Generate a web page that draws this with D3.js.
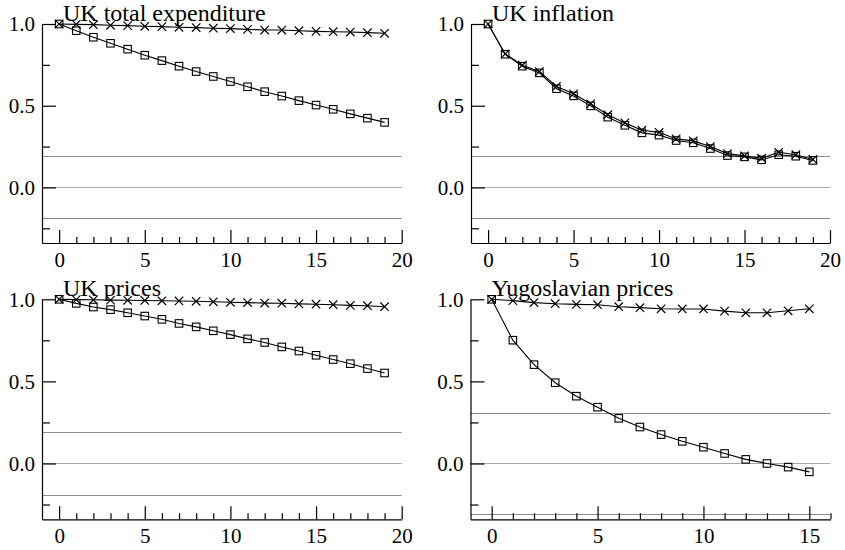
<!DOCTYPE html>
<html>
<head>
<meta charset="utf-8">
<script src="https://cdn.jsdelivr.net/npm/d3@7"></script>
<style>
  html, body { margin: 0; padding: 0; background: #fff; }
  svg { display: block; }
  svg text { font-family: "Liberation Serif", "Times New Roman", Times, "DejaVu Serif", serif !important; fill: #000; }
</style>
</head>
<body>
<svg id="chart" width="845" height="550"></svg>
<script>
// ---- data ----
const lagsUK = [0,1,2,3,4,5,6,7,8,9,10,11,12,13,14,15,16,17,18,19];
const lagsYugo = [0,1,2,3,4,5,6,7,8,9,10,11,12,13,14,15];

const titles = ["UK total expenditure", "UK inflation", "UK prices", "Yugoslavian prices"];

const expCross  = [1.0,0.998,0.996,0.992,0.990,0.986,0.984,0.980,0.978,0.974,0.972,0.967,0.963,0.963,0.959,0.955,0.953,0.951,0.947,0.943];
const expSquare = [1.0,0.959,0.919,0.882,0.846,0.809,0.776,0.742,0.709,0.679,0.648,0.616,0.586,0.559,0.531,0.504,0.478,0.450,0.424,0.398];

const inflCross  = [1.0,0.817,0.748,0.709,0.618,0.573,0.512,0.445,0.395,0.350,0.337,0.297,0.285,0.250,0.207,0.193,0.179,0.215,0.200,0.171];
const inflSquare = [1.0,0.815,0.742,0.701,0.604,0.560,0.499,0.430,0.380,0.334,0.320,0.287,0.273,0.238,0.195,0.187,0.169,0.200,0.191,0.165];

const pricesCross  = [1.0,0.998,0.997,0.995,0.994,0.993,0.991,0.990,0.988,0.985,0.982,0.980,0.977,0.976,0.972,0.970,0.967,0.963,0.961,0.955];
const pricesSquare = [1.0,0.975,0.953,0.937,0.918,0.898,0.878,0.853,0.832,0.808,0.785,0.759,0.737,0.710,0.685,0.659,0.633,0.608,0.578,0.551];

const yugoCross  = [1.0,0.992,0.980,0.973,0.969,0.967,0.955,0.949,0.942,0.941,0.941,0.928,0.918,0.918,0.930,0.942];
const yugoSquare = [1.0,0.751,0.602,0.492,0.410,0.343,0.275,0.222,0.176,0.135,0.099,0.061,0.025,0.0,-0.022,-0.051];

const bandsUK = [0.19, 0, -0.19];
const bandsYugo = [0.31, 0, -0.31];

const xMajorUK = [0,5,10,15,20];
const xMinorUK = [1,2,3,4,6,7,8,9,11,12,13,14,16,17,18,19];
const xMajorYugo = [0,5,10,15];
const xMinorYugo = [1,2,3,4,6,7,8,9,11,12,13,14,16];
const yMajor = [1.0, 0.5, 0.0];
const yMinor = [0.75, 0.25, -0.25];
const xDomainUK = [-1, 20];
const xDomainYugo = [-1, 16];
const yDomain = [-0.34, 1.0];

// ---- layout ----
const panels = [
  {title: titles[0], lags: lagsUK, cross: expCross, square: expSquare, bands: bandsUK, xMajor: xMajorUK, xMinor: xMinorUK, xDomain: xDomainUK, L: 42, R: 401.7, T: 24, B: 243},
  {title: titles[1], lags: lagsUK, cross: inflCross, square: inflSquare, bands: bandsUK, xMajor: xMajorUK, xMinor: xMinorUK, xDomain: xDomainUK, L: 471, R: 830, T: 24, B: 243},
  {title: titles[2], lags: lagsUK, cross: pricesCross, square: pricesSquare, bands: bandsUK, xMajor: xMajorUK, xMinor: xMinorUK, xDomain: xDomainUK, L: 42, R: 401.7, T: 299.3, B: 519.3},
  {title: titles[3], lags: lagsYugo, cross: yugoCross, square: yugoSquare, bands: bandsYugo, xMajor: xMajorYugo, xMinor: xMinorYugo, xDomain: xDomainYugo, L: 470.5, R: 830.5, T: 299.3, B: 519.3}
];

const FONT = '"Liberation Serif", "Times New Roman", Times, "DejaVu Serif", serif';

const svg = d3.select("#chart");
svg.append("rect").attr("width", 845).attr("height", 550).attr("fill", "#fff");

panels.forEach(p => {
  const x = d3.scaleLinear().domain(p.xDomain).range([p.L, p.R]);
  const y = d3.scaleLinear().domain(yDomain).range([p.B, p.T]);
  const g = svg.append("g");

  // reference lines
  g.selectAll("line.band").data(p.bands).join("line")
    .attr("class", "band")
    .attr("x1", x(p.xDomain[0])).attr("x2", x(p.xDomain[1]))
    .attr("y1", d => Math.round(y(d)) + 0.5).attr("y2", d => Math.round(y(d)) + 0.5)
    .attr("stroke", d => d === 0 ? "#a8a8a8" : "#8c8c8c")
    .attr("stroke-width", 1);

  // y axis (inward ticks)
  const yAxisMajor = d3.axisLeft(y).tickValues(yMajor).tickFormat(d3.format(".1f"))
    .tickSizeInner(-14).tickSizeOuter(0).tickPadding(7);
  const yAx = g.append("g").attr("transform", `translate(${p.L},0)`).call(yAxisMajor);
  yAx.attr("font-family", FONT).attr("font-size", 21);
  const yAxisMinor = d3.axisLeft(y).tickValues(yMinor).tickFormat("")
    .tickSizeInner(-8).tickSizeOuter(0);
  const yAxm = g.append("g").attr("transform", `translate(${p.L},0)`).call(yAxisMinor);
  yAxm.select(".domain").remove();

  // x axis (inward ticks)
  const xAxisMajor = d3.axisBottom(x).tickValues(p.xMajor).tickFormat(d3.format("d"))
    .tickSizeInner(-13).tickSizeOuter(0).tickPadding(9);
  const xAx = g.append("g").attr("transform", `translate(0,${p.B})`).call(xAxisMajor);
  xAx.attr("font-family", FONT).attr("font-size", 21);
  const xAxisMinor = d3.axisBottom(x).tickValues(p.xMinor).tickFormat("")
    .tickSizeInner(-6).tickSizeOuter(0);
  const xAxm = g.append("g").attr("transform", `translate(0,${p.B})`).call(xAxisMinor);
  xAxm.select(".domain").remove();

  g.selectAll(".domain, .tick line").attr("stroke", "#000").attr("stroke-width", 1.2);

  // series lines
  const line = d3.line().x((d, i) => x(p.lags[i])).y(d => y(d));
  g.append("path").datum(p.square).attr("d", line)
    .attr("fill", "none").attr("stroke", "#000").attr("stroke-width", 1.1);
  g.append("path").datum(p.cross).attr("d", line)
    .attr("fill", "none").attr("stroke", "#000").attr("stroke-width", 1.1);

  // square markers
  const s = 7.5;
  g.selectAll("rect.sq").data(p.square).join("rect")
    .attr("class", "sq")
    .attr("x", (d, i) => x(p.lags[i]) - s / 2).attr("y", d => y(d) - s / 2)
    .attr("width", s).attr("height", s)
    .attr("fill", "none").attr("stroke", "#000").attr("stroke-width", 1.1);

  // cross markers
  const c = 4.2;
  g.selectAll("path.cr").data(p.cross).join("path")
    .attr("class", "cr")
    .attr("d", (d, i) => {
      const cx = x(p.lags[i]), cy = y(d);
      return `M${cx - c},${cy - c}L${cx + c},${cy + c}M${cx - c},${cy + c}L${cx + c},${cy - c}`;
    })
    .attr("fill", "none").attr("stroke", "#000").attr("stroke-width", 1.2);

  // title
  g.append("text").attr("x", p.L + 21).attr("y", p.T - 3)
    .attr("font-family", FONT).attr("font-size", 24).text(p.title);
});
</script>
</body>
</html>
